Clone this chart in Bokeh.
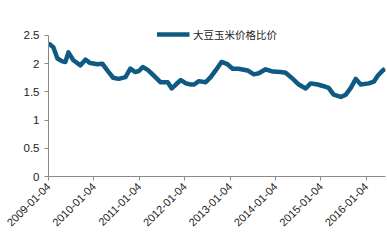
import math
from datetime import datetime
from bokeh.plotting import figure
from bokeh.models import Range1d, FixedTicker, DatetimeTickFormatter, Legend, LegendItem
from bokeh.embed import file_html
from bokeh.resources import INLINE

series_name = "大豆玉米价格比价"
dates = [
    "2009-01-04", "2009-02-12", "2009-03-17", "2009-04-25", "2009-05-20", "2009-06-13",
    "2009-07-23", "2009-09-18", "2009-10-28", "2009-12-06", "2010-02-01", "2010-03-13",
    "2010-04-22", "2010-06-08", "2010-07-22", "2010-09-15", "2010-10-24", "2010-12-03",
    "2011-01-01", "2011-02-01", "2011-03-13", "2011-04-30", "2011-06-25", "2011-08-21",
    "2011-09-22", "2011-10-25", "2011-12-04", "2012-01-14", "2012-02-23", "2012-03-20",
    "2012-04-28", "2012-06-21", "2012-07-31", "2012-09-09", "2012-10-26", "2012-12-13",
    "2013-01-24", "2013-03-12", "2013-05-24", "2013-07-13", "2013-08-22", "2013-10-16",
    "2013-12-13", "2014-02-14", "2014-03-26", "2014-05-23", "2014-07-10", "2014-09-03",
    "2014-10-13", "2014-12-09", "2015-01-26", "2015-03-07", "2015-04-16", "2015-06-13",
    "2015-07-23", "2015-09-01", "2015-10-11", "2015-11-20", "2016-01-24", "2016-03-04",
    "2016-04-06", "2016-05-16", "2016-06-03",
]
values = [
    2.36, 2.29, 2.09, 2.04, 2.03, 2.20,
    2.06, 1.97, 2.07, 2.01, 1.99, 2.00,
    1.88, 1.75, 1.73, 1.76, 1.91, 1.85,
    1.87, 1.94, 1.89, 1.79, 1.67, 1.67,
    1.56, 1.63, 1.71, 1.65, 1.63, 1.63,
    1.69, 1.67, 1.76, 1.88, 2.03, 1.99,
    1.91, 1.91, 1.88, 1.81, 1.83, 1.90,
    1.86, 1.85, 1.84, 1.73, 1.63, 1.56,
    1.65, 1.63, 1.60, 1.57, 1.45, 1.41,
    1.45, 1.57, 1.73, 1.63, 1.65, 1.68,
    1.79, 1.88, 1.91,
]
tick_dates = ["2009-01-04", "2010-01-04", "2011-01-04", "2012-01-04",
              "2013-01-04", "2014-01-04", "2015-01-04", "2016-01-04"]
y_ticks = [0, 0.5, 1, 1.5, 2, 2.5]

xs = [datetime.strptime(d, "%Y-%m-%d") for d in dates]
tick_ms = [datetime.strptime(d, "%Y-%m-%d").timestamp() * 1000 for d in tick_dates]

FONT = "Liberation Sans"
CJK = "Noto Sans CJK SC"

p = figure(width=387, height=245, x_axis_type="datetime", output_backend="svg",
           toolbar_location=None, min_border_left=48, min_border_right=2,
           min_border_top=18, min_border_bottom=69)
p.x_range = Range1d(datetime(2009, 1, 4), datetime(2016, 6, 6))
p.y_range = Range1d(0, 2.80)
p.outline_line_color = None
p.xgrid.visible = False
p.ygrid.visible = False
p.background_fill_color = "white"

r = p.line(xs, values, line_color="#0f5a83", line_width=4.5, line_join="round")

p.yaxis.ticker = FixedTicker(ticks=y_ticks)
p.yaxis.bounds = (0, 2.5)
p.yaxis.axis_line_color = "#8a8a8a"
p.yaxis.major_tick_line_color = "#8a8a8a"
p.yaxis.major_tick_out = 4
p.yaxis.major_tick_in = 0
p.yaxis.minor_tick_line_color = None
p.yaxis.major_label_text_font = FONT
p.yaxis.major_label_text_font_size = "11.5px"
p.yaxis.major_label_text_color = "#222222"
p.yaxis.major_label_standoff = 5

p.xaxis.ticker = FixedTicker(ticks=tick_ms)
p.xaxis.formatter = DatetimeTickFormatter(days="%Y-%m-%d", months="%Y-%m-%d", years="%Y-%m-%d")
p.xaxis.axis_line_color = "#8a8a8a"
p.xaxis.major_tick_line_color = "#8a8a8a"
p.xaxis.major_tick_out = 4
p.xaxis.major_tick_in = 0
p.xaxis.minor_tick_line_color = None
p.xaxis.major_label_orientation = math.pi / 4
p.xaxis.major_label_text_font = FONT
p.xaxis.major_label_text_font_size = "11px"
p.xaxis.major_label_text_color = "#222222"
p.xaxis.major_label_standoff = 4

legend = Legend(items=[LegendItem(label=series_name, renderers=[r])],
                location="top_center", orientation="horizontal")
legend.border_line_color = None
legend.background_fill_alpha = 0
legend.label_text_font = CJK
legend.label_text_font_size = "10.5px"
legend.label_text_color = "#222222"
legend.glyph_width = 33
legend.padding = 0
legend.margin = 6
legend.label_standoff = 4
p.add_layout(legend)

open("out.html", "w").write(file_html(p, INLINE))
